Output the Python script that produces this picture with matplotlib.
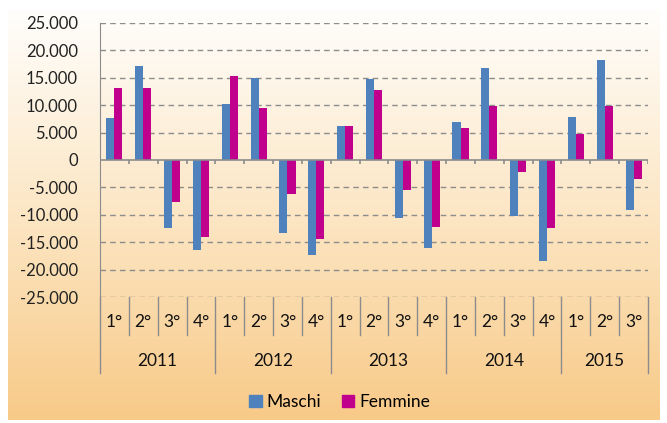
import numpy as np
import matplotlib
matplotlib.use("Agg")
import matplotlib.pyplot as plt
from matplotlib.colors import LinearSegmentedColormap
from matplotlib.ticker import FuncFormatter
import matplotlib.transforms as mtransforms
from matplotlib.patches import Patch

## Data ##
years = ["2011", "2012", "2013", "2014", "2015"]
quarters_per_year = [4, 4, 4, 4, 3]
quarter_labels = ["1°", "2°", "3°", "4°"]
maschi = [7600, 17200, -12500, -16400,
          10200, 15000, -13400, -17300,
          6200, 14700, -10500, -16000,
          6900, 16700, -10200, -18500,
          7900, 18300, -9200]
femmine = [13200, 13200, -7700, -14000,
           15400, 9500, -6200, -14500,
           6200, 12700, -5400, -12200,
           5800, 9900, -2200, -12400,
           4800, 9900, -3400]
yticks = list(range(-25000, 25001, 5000))

blue = "#4F81BD"
magenta = "#C0008C"
gray = "#8C8C8C"

plt.rcParams['font.family'] = ['Lato', 'DejaVu Sans']

fig = plt.figure(figsize=(6.67, 4.23), dpi=100)

# gradient panel behind the chart
bg = fig.add_axes([8/667, 1 - 420/423, 652/667, 410/423], zorder=-2)
grad = LinearSegmentedColormap.from_list("bg", ["#FFFEFC", "#FCE6C4", "#F8CA88"])
bg.imshow(np.linspace(0, 1, 256).reshape(-1, 1), cmap=grad, aspect="auto",
          extent=[0, 1, 0, 1])
bg.set_axis_off()

ax = fig.add_axes([100/667, 1 - 297/423, 548/667, 274/423])
ax.set_facecolor("none")

n = len(maschi)
x = np.arange(n)
w = 0.28
ax.bar(x - w/2, maschi, w, color=blue, label="Maschi", zorder=3)
ax.bar(x + w/2, femmine, w, color=magenta, label="Femmine", zorder=3)

ax.set_xlim(-0.5, n - 0.5)
ax.set_ylim(-25000, 25000)
ax.set_yticks(yticks)
ax.yaxis.set_major_formatter(FuncFormatter(lambda v, p: f"{int(v):,}".replace(",", ".")))
ax.tick_params(axis="y", length=0, labelsize=12, pad=16, colors="#222222")
ax.set_xticks([])

for t in yticks:
    if t != 0:
        ax.axhline(t, color=gray, ls=(0, (4, 3)), lw=1, zorder=1)
ax.axhline(0, color=gray, lw=1.2, zorder=4)
# small tick marks on the zero line
ax.vlines(np.arange(n + 1) - 0.5, -800, 0, color=gray, lw=1.2, zorder=4)

for s in ["top", "right", "bottom"]:
    ax.spines[s].set_visible(False)
ax.spines["left"].set_color(gray)

# category labels under the axis
trans = mtransforms.blended_transform_factory(ax.transData, ax.transAxes)
year_bounds = np.concatenate([[0], np.cumsum(quarters_per_year)])
i = 0
for yi, nq in enumerate(quarters_per_year):
    for q in range(nq):
        ax.text(i, -0.091, quarter_labels[q], transform=trans, ha="center",
                va="center", fontsize=12.5, color="#111111")
        i += 1
    mid = (year_bounds[yi] + year_bounds[yi + 1] - 1) / 2
    ax.text(mid, -0.234, years[yi], transform=trans, ha="center", va="center",
            fontsize=12.5, color="#111111")

for b in range(n + 1):
    bottom = -0.277 if b in year_bounds else -0.139
    ax.plot([b - 0.5, b - 0.5], [0, bottom], transform=trans, color=gray,
            lw=1, clip_on=False)

handles = [Patch(color=blue, label="Maschi"), Patch(color=magenta, label="Femmine")]
fig.legend(handles=handles, loc="center", bbox_to_anchor=(340/667, 1 - 402/423),
           ncol=2, frameon=False, fontsize=12.5, handlelength=0.7, handleheight=0.7,
           handletextpad=0.3, columnspacing=1.2)

fig.savefig("out.png", dpi=100)
